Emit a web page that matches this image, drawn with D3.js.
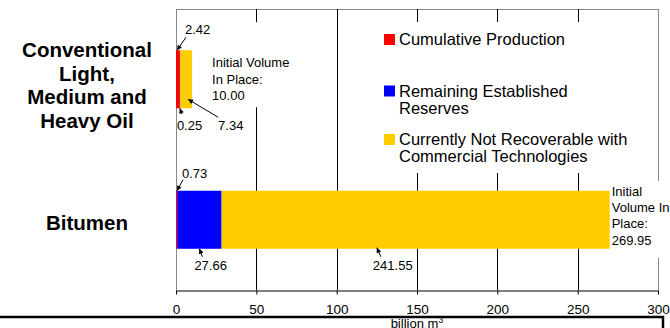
<!DOCTYPE html>
<html>
<head>
<meta charset="utf-8">
<script src="https://cdn.jsdelivr.net/npm/d3@7"></script>
<style>
  html, body { margin: 0; padding: 0; background: #fff; }
  svg { display: block; font-family: Arial, "Liberation Sans", sans-serif; }
</style>
</head>
<body>
<svg id="chart" width="670" height="328"></svg>
<script>
// Resource categories and their wrapped row labels
const categories = ["Conventional Light, Medium and Heavy Oil", "Bitumen"];
const categoryLines = [["Conventional", "Light,", "Medium and", "Heavy Oil"], ["Bitumen"]];

// Volumes in billion m³ for each category
const cumulativeProduction = [2.42, 0.73];
const remainingReserves = [0.25, 27.66];
const notRecoverable = [7.34, 241.55];
const initialVolume = [10.00, 269.95];

// Series names and legend wrapping
const seriesNames = ["Cumulative Production", "Remaining Established Reserves", "Currently Not Recoverable with Commercial Technologies"];
const legendLines = [["Cumulative Production"], ["Remaining Established", "Reserves"], ["Currently Not Recoverable with", "Commercial Technologies"]];

// Axis ticks
const xTicks = [0, 50, 100, 150, 200, 250, 300];
const axisTitle = "billion m";

const seriesColors = ["#FF0000", "#0000FF", "#FFCC00"];

const svg = d3.select("#chart");

const plot = { left: 176, right: 658, top: 9, bottom: 290 };

const x = d3.scaleLinear().domain([0, 300]).range([plot.left, plot.right]);
const y = d3.scaleBand().domain(categories).range([plot.top, plot.bottom])
  .paddingInner(0.587).paddingOuter(0.2935);

const rows = categories.map((c, i) => ({
  category: c,
  s0: cumulativeProduction[i],
  s1: remainingReserves[i],
  s2: notRecoverable[i]
}));
const stacked = d3.stack().keys(["s0", "s1", "s2"])(rows);

const px = v => Math.round(x(v)) + 0.5;

// Plot frame (grey) and vertical gridlines (black)
svg.append("line").attr("x1", plot.left).attr("x2", plot.right)
  .attr("y1", plot.top + 0.5).attr("y2", plot.top + 0.5).attr("stroke", "#888");
svg.append("line").attr("x1", px(0)).attr("x2", px(0))
  .attr("y1", plot.top).attr("y2", plot.bottom).attr("stroke", "#888");
svg.append("line").attr("x1", px(300)).attr("x2", px(300))
  .attr("y1", plot.top).attr("y2", plot.bottom).attr("stroke", "#888");
svg.append("g").selectAll("line").data(xTicks.filter(t => t > 0 && t < 300)).join("line")
  .attr("x1", d => px(d)).attr("x2", d => px(d))
  .attr("y1", plot.top).attr("y2", plot.bottom)
  .attr("stroke", "#000").attr("stroke-width", 1);

// Stacked bars
svg.append("g").selectAll("g").data(stacked).join("g")
  .attr("fill", (d, i) => seriesColors[i])
  .selectAll("rect").data(d => d).join("rect")
  .attr("x", d => x(d[0]))
  .attr("width", d => Math.max(0, x(d[1]) - x(d[0])))
  .attr("y", d => y(d.data.category))
  .attr("height", y.bandwidth());

// Arrowhead marker
svg.append("defs").append("marker")
  .attr("id", "head").attr("viewBox", "0 0 10 10")
  .attr("refX", 10).attr("refY", 5)
  .attr("markerWidth", 6).attr("markerHeight", 5)
  .attr("markerUnits", "userSpaceOnUse")
  .attr("orient", "auto")
  .append("path").attr("d", "M0,0 L10,5 L0,10 Z").attr("fill", "#000");

// Initial volume labels (white boxes hide gridlines behind them)
const totalLabel = svg.append("g").attr("font-size", 13).attr("fill", "#000");
categories.forEach((c, i) => {
  const top = y(c), bottom = top + y.bandwidth();
  const end = x(d3.sum([cumulativeProduction[i], remainingReserves[i], notRecoverable[i]]));
  const vol = initialVolume[i].toFixed(2);
  let lines, tx, baselines, box;
  if (i === 0) {
    lines = ["Initial Volume", "In Place:", vol];
    tx = end + 20;
    baselines = [top + 17, top + 33.5, top + 50];
    box = [end + 16, top - 28, 92, bottom - 1 - (top - 28)];
  } else {
    lines = ["Initial", "Volume In", "Place:", vol];
    tx = end + 2;
    baselines = [top + 5, top + 21, top + 37, top + 54];
    box = [end + 1, top - 10, 670 - end, bottom + 9 - (top - 10)];
  }
  totalLabel.append("rect").attr("x", box[0]).attr("y", box[1])
    .attr("width", box[2]).attr("height", box[3]).attr("fill", "#fff");
  lines.forEach((t, k) => {
    totalLabel.append("text").attr("x", tx).attr("y", baselines[k]).text(t);
  });
});

// Value call-outs with arrows pointing at each segment
const callouts = [
  { cat: 0, s: 0, edge: "top", t: 0, hx: 1, hy: 0, tail: [9, -13], text: [8, -16] },
  { cat: 0, s: 1, edge: "bottom", t: 0, hx: 0, hy: 0, tail: [2, 6], text: [-3, 22] },
  { cat: 0, s: 2, edge: "bottom", t: 0.66, hx: 0, hy: -9, tail: [30, 18], text: [30, 31] },
  { cat: 1, s: 0, edge: "top", t: 0, hx: 1, hy: 0, tail: [6, -11], text: [5, -13] },
  { cat: 1, s: 1, edge: "bottom", t: 0.5, hx: 0, hy: 0, tail: [3, 8], text: [-5, 21] },
  { cat: 1, s: 2, edge: "bottom", t: 0.40, hx: 0, hy: -1, tail: [4, 9], text: [-4, 22] }
];
const seriesValues = [cumulativeProduction, remainingReserves, notRecoverable];
const co = svg.append("g").attr("font-size", 13).attr("fill", "#000");
callouts.forEach(a => {
  const seg = stacked[a.s][a.cat];
  const x0 = x(seg[0]), x1 = x(seg[1]);
  const top = y(categories[a.cat]), bottom = top + y.bandwidth();
  const hx = x0 + a.t * (x1 - x0) + a.hx;
  const hy = (a.edge === "top" ? top : bottom) + a.hy;
  co.append("line")
    .attr("x1", hx + a.tail[0]).attr("y1", hy + a.tail[1])
    .attr("x2", hx).attr("y2", hy)
    .attr("stroke", "#000").attr("stroke-width", 1)
    .attr("marker-end", "url(#head)");
  co.append("text").attr("x", hx + a.text[0]).attr("y", hy + a.text[1])
    .text(seriesValues[a.s][a.cat].toFixed(2));
});

// Legend
const legend = svg.append("g");
legend.append("rect").attr("x", 372).attr("y", 22).attr("width", 278).attr("height", 151).attr("fill", "#fff");
const legendBase = [45, 96.5, 145];
seriesNames.forEach((name, i) => {
  const g = legend.append("g");
  g.append("rect").attr("x", 384).attr("y", legendBase[i] - 11)
    .attr("width", 11).attr("height", 11).attr("fill", seriesColors[i]);
  legendLines[i].forEach((t, k) => {
    g.append("text").attr("x", 399).attr("y", legendBase[i] + k * 17)
      .attr("font-size", 16.5).attr("fill", "#000").text(t);
  });
});

// Category labels
const catG = svg.append("g").attr("font-weight", "bold").attr("font-size", 20.5)
  .attr("text-anchor", "middle").attr("fill", "#000");
categories.forEach((c, i) => {
  const mid = y(c) + y.bandwidth() / 2;
  const lines = categoryLines[i];
  const step = 23.5;
  const first = mid + 7.5 - (lines.length - 1) * step / 2 + (lines.length > 1 ? 11.5 : 3);
  lines.forEach((t, k) => {
    catG.append("text").attr("x", 87).attr("y", (lines.length > 1 ? mid - 22 : mid + 10.5) + k * step).text(t);
  });
});

// Bottom axis
const axis = svg.append("g").attr("transform", `translate(0,${plot.bottom + 0.5})`)
  .call(d3.axisBottom(x).tickValues(xTicks).tickSize(4).tickSizeOuter(0).tickPadding(10));
axis.select(".domain").attr("stroke", "#000");
axis.selectAll(".tick line").attr("stroke", "#000");
axis.selectAll(".tick text").attr("font-size", 13.5).attr("font-family", "Arial, 'Liberation Sans', sans-serif").attr("fill", "#000");

// Axis title with superscript
const title = svg.append("text").attr("x", x(150)).attr("y", 327.5)
  .attr("text-anchor", "middle").attr("font-size", 13).attr("fill", "#000");
title.append("tspan").text(axisTitle);
title.append("tspan").attr("dy", -5).attr("font-size", 9).text("3");

// Heavy rule under the axis
svg.append("path").attr("d", "M0,317 H663 V328")
  .attr("fill", "none").attr("stroke", "#000").attr("stroke-width", 2.5);
</script>
</body>
</html>
